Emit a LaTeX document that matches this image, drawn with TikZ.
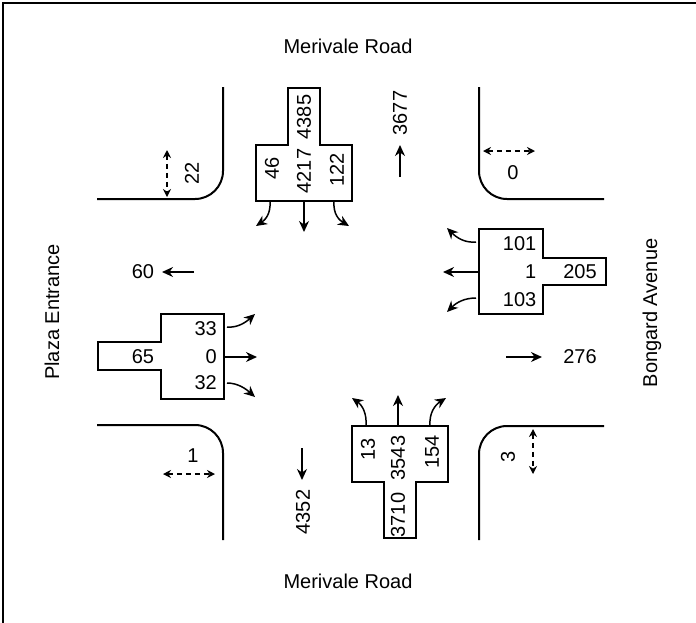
\documentclass[tikz,border=0pt]{standalone}
\usepackage{fontspec}
\setmainfont{Liberation Sans}
\usetikzlibrary{arrows.meta,calc}
\definecolor{PlanInk}{HTML}{000000}
\tikzset{
  every node/.style={font=\fontsize{20}{24}\selectfont, text=PlanInk, inner sep=0pt},
  frame/.style={draw=PlanInk, line width=2.6pt},
  curb/.style={draw=PlanInk, line width=2pt, rounded corners=28pt},
  lanebox/.style={draw=PlanInk, line width=2.2pt},
  flow/.style={-{Stealth[length=11pt,width=10pt]}, draw=PlanInk, line width=1.5pt},
  walk/.style={{Stealth[length=8pt,width=8pt]}-{Stealth[length=8pt,width=8pt]}, draw=PlanInk, line width=1.4pt, dash pattern=on 5pt off 4pt},
  upright/.style={rotate=90},
}
\begin{document}
\begin{tikzpicture}[x=1pt,y=-1pt]
  \useasboundingbox (0,0) rectangle (696,622);
  \draw[frame] (3,623) -- (3,3) -- (697,3);
  % road names
  \node (roadN) at (348,46) {Merivale Road};
  \node (roadS) at (348,581) {Merivale Road};
  \node[upright] (roadW) at (52,312) {Plaza Entrance};
  \node[upright] (roadE) at (652,313) {Bongard Avenue};
  % curbs
  \draw[curb] (97,199) -- (223,199) -- (223,87);
  \draw[curb] (479,87) -- (479,199) -- (604,199);
  \draw[curb] (97,425) -- (223,425) -- (223,540);
  \draw[curb] (479,540) -- (479,426) -- (604,426);
  % pedestrians
  \draw[walk] (167,150) -- (167,197);
  \node[upright] (pedNW) at (192,173) {22};
  \draw[walk] (483,151) -- (535,151);
  \node (pedNE) at (513,173) {0};
  \draw[walk] (163,474) -- (215,474);
  \node (pedSW) at (193,456) {1};
  \draw[walk] (533,429) -- (533,474);
  \node[upright] (pedSE) at (508,457) {3};
  % north approach
  \draw[lanebox] (256,201) -- (256,145) -- (288,145) -- (288,88) -- (320,88)
    -- (320,145) -- (352,145) -- (352,201) -- cycle;
  \node[upright] (nStem) at (304,117) {4385};
  \foreach \x/\y/\v/\n in {272/168/46/nLeft,304/171/4217/nThru,337/170/122/nRight}
    \node[upright] (\n) at (\x,\y) {\v};
  \draw[flow] (270,201) .. controls (271,214) and (265,220) .. (256,226);
  \draw[flow] (304,201) -- (304,232);
  \draw[flow] (334,201) .. controls (333,214) and (339,220) .. (349,226);
  \draw[flow] (400,177) -- (400,145);
  \node[upright] (outN) at (400,113) {3677};
  % south approach
  \draw[lanebox] (352,426) -- (448,426) -- (448,482) -- (416,482) -- (416,538)
    -- (384,538) -- (384,482) -- (352,482) -- cycle;
  \node[upright] (sStem) at (398,515) {3710};
  \foreach \x/\y/\v/\n in {368/449/13/sLeft,398/458/3543/sThru,432/452/154/sRight}
    \node[upright] (\n) at (\x,\y) {\v};
  \draw[flow] (366,426) .. controls (367,413) and (362,405) .. (352,398);
  \draw[flow] (398,426) -- (398,395);
  \draw[flow] (430,426) .. controls (429,413) and (435,405) .. (446,398);
  \draw[flow] (302,448) -- (302,480);
  \node[upright] (outS) at (303,512) {4352};
  % east approach
  \draw[lanebox] (479,229) -- (543,229) -- (543,258) -- (606,258) -- (606,285)
    -- (543,285) -- (543,314) -- (479,314) -- cycle;
  \node (eStem) at (580,272) {205};
  \foreach \y/\v/\n in {244/101/eTop,272/1/eMid,300/103/eBot}
    \node[anchor=east] (\n) at (536.5,\y) {\v};
  \draw[flow] (476,242) .. controls (465,243) and (457,238) .. (447,228);
  \draw[flow] (479,272) -- (443,272);
  \draw[flow] (476,298) .. controls (465,298) and (457,302) .. (447,312);
  \draw[flow] (506,357) -- (542,357);
  \node (outE) at (580,357) {276};
  % west approach
  \draw[lanebox] (161,314) -- (224,314) -- (224,399) -- (161,399) -- (161,370)
    -- (98,370) -- (98,342) -- (161,342) -- cycle;
  \node (wStem) at (143,357) {65};
  \foreach \y/\v/\n in {329/33/wTop,357/0/wMid,383/32/wBot}
    \node[anchor=east] (\n) at (217,\y) {\v};
  \draw[flow] (227,327) .. controls (238,328) and (246,322) .. (255,314);
  \draw[flow] (224,357) -- (257,357);
  \draw[flow] (227,383) .. controls (238,383) and (246,389) .. (255,397);
  \draw[flow] (194,272) -- (162,272);
  \node (outW) at (143,272) {60};
\end{tikzpicture}
\end{document}
